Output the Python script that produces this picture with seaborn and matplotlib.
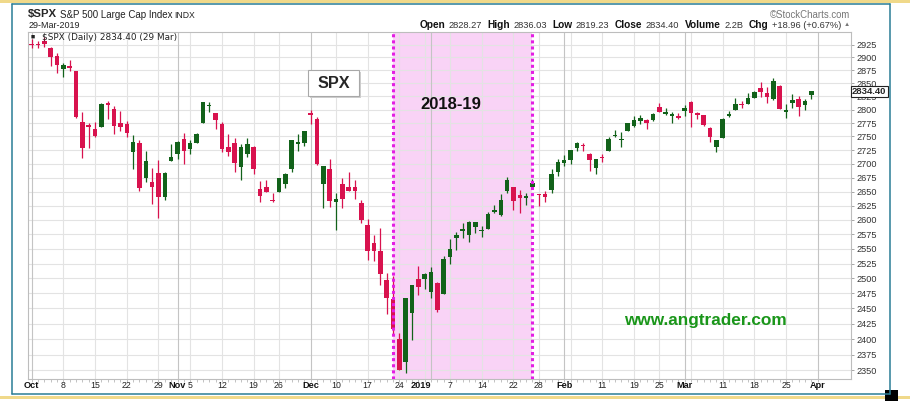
import numpy as np
import pandas as pd
import matplotlib
matplotlib.use("Agg")
import matplotlib.pyplot as plt
import seaborn as sns
from matplotlib.lines import Line2D
from matplotlib.patches import Rectangle
from matplotlib.ticker import NullLocator

# S&P 500 daily candles, Oct 2018 - Mar 2019
holidays = ['2018-11-22', '2018-12-05', '2018-12-25', '2019-01-01', '2019-01-21', '2019-02-18']
dates = pd.bdate_range('2018-10-01', '2019-03-29', freq='C', holidays=holidays)

opens = [2926.29, 2923.80, 2931.69, 2919.35, 2902.54, 2877.53, 2882.51, 2873.90, 2776.87, 2770.54,
         2763.83, 2767.05, 2811.67, 2802.00, 2775.66, 2773.94, 2721.03, 2737.87, 2674.88, 2667.86,
         2682.65, 2640.68, 2705.60, 2717.58, 2745.45, 2726.37, 2738.40, 2774.13, 2806.38, 2794.10,
         2773.93, 2730.05, 2737.90, 2693.52, 2718.54, 2730.74, 2654.60, 2657.74, 2633.36, 2649.97,
         2663.75, 2691.45, 2736.97, 2737.76, 2790.50, 2782.43, 2663.51, 2691.26, 2630.86, 2664.44,
         2658.23, 2658.70, 2629.68, 2590.75, 2559.90, 2547.05, 2496.77, 2465.38, 2400.56, 2363.12,
         2442.50, 2498.77, 2498.94, 2476.96, 2491.92, 2474.33, 2535.61, 2568.11, 2580.00, 2573.51,
         2588.11, 2580.31, 2585.10, 2614.75, 2609.28, 2651.27, 2657.88, 2643.48, 2638.84, 2657.44,
         2644.97, 2644.89, 2653.62, 2685.49, 2702.32, 2706.49, 2728.34, 2735.05, 2717.53, 2692.36,
         2712.40, 2722.61, 2750.30, 2743.50, 2760.24, 2769.28, 2779.05, 2780.24, 2780.67, 2804.35,
         2792.36, 2787.50, 2788.11, 2798.22, 2814.37, 2794.41, 2790.27, 2766.53, 2730.79, 2747.61,
         2787.34, 2799.78, 2810.38, 2810.79, 2822.61, 2840.76, 2831.34, 2819.72, 2844.52, 2796.01,
         2812.66, 2819.72, 2809.40, 2828.27]
highs = [2937.06, 2931.42, 2939.86, 2919.78, 2909.64, 2889.45, 2894.83, 2874.02, 2795.14, 2775.77,
         2775.99, 2813.46, 2816.94, 2806.04, 2797.77, 2778.94, 2753.59, 2742.59, 2722.70, 2692.38,
         2706.85, 2685.43, 2736.69, 2741.67, 2756.55, 2744.27, 2756.82, 2815.15, 2814.75, 2794.10,
         2775.99, 2754.60, 2746.80, 2735.38, 2746.75, 2733.16, 2669.44, 2670.73, 2647.55, 2674.35,
         2682.53, 2744.00, 2753.75, 2760.88, 2800.18, 2785.93, 2696.15, 2708.54, 2647.51, 2674.35,
         2685.44, 2670.19, 2635.07, 2601.13, 2573.99, 2585.29, 2509.63, 2504.41, 2410.34, 2467.76,
         2489.10, 2520.27, 2509.24, 2519.49, 2493.14, 2538.07, 2566.16, 2579.82, 2595.32, 2597.82,
         2596.27, 2589.32, 2613.08, 2625.76, 2645.06, 2675.47, 2657.88, 2653.19, 2647.20, 2672.38,
         2644.97, 2650.93, 2690.44, 2708.95, 2716.66, 2724.99, 2738.98, 2738.08, 2719.32, 2708.07,
         2718.05, 2748.19, 2761.85, 2757.90, 2775.66, 2787.33, 2789.88, 2781.58, 2794.20, 2813.49,
         2803.12, 2795.76, 2793.73, 2808.02, 2816.88, 2796.44, 2790.27, 2767.25, 2744.13, 2784.00,
         2798.32, 2821.24, 2816.25, 2830.73, 2835.41, 2852.42, 2843.54, 2860.31, 2846.16, 2809.79,
         2829.87, 2825.56, 2819.71, 2836.03]
lows = [2917.91, 2919.37, 2921.36, 2883.92, 2869.29, 2862.08, 2874.27, 2784.86, 2710.51, 2729.44,
        2749.03, 2766.91, 2781.81, 2755.18, 2760.27, 2749.22, 2691.43, 2651.89, 2667.84, 2628.16,
        2603.54, 2635.34, 2705.60, 2708.85, 2700.44, 2717.94, 2737.08, 2774.13, 2794.99, 2764.24,
        2722.00, 2714.98, 2685.75, 2670.75, 2712.16, 2681.09, 2631.52, 2649.82, 2631.09, 2649.97,
        2655.89, 2684.38, 2722.94, 2732.76, 2773.38, 2697.18, 2621.53, 2623.14, 2583.23, 2621.30,
        2650.26, 2637.27, 2593.84, 2530.54, 2528.71, 2488.96, 2441.18, 2408.55, 2351.10, 2346.58,
        2397.94, 2472.89, 2482.82, 2467.47, 2443.96, 2474.33, 2524.56, 2547.56, 2568.89, 2562.02,
        2577.40, 2570.41, 2585.10, 2612.68, 2606.36, 2647.58, 2617.27, 2612.86, 2627.01, 2657.33,
        2624.06, 2631.05, 2648.34, 2678.65, 2696.88, 2698.75, 2724.03, 2724.15, 2687.26, 2681.83,
        2703.79, 2722.61, 2748.63, 2731.23, 2760.24, 2767.29, 2774.06, 2764.55, 2779.11, 2794.99,
        2789.47, 2775.13, 2782.51, 2787.38, 2767.66, 2782.97, 2768.69, 2739.09, 2722.27, 2747.61,
        2786.73, 2799.78, 2803.46, 2810.79, 2821.99, 2823.27, 2812.43, 2817.38, 2800.47, 2785.02,
        2803.99, 2787.72, 2798.77, 2819.23]
closes = [2924.59, 2923.43, 2925.51, 2901.61, 2885.57, 2884.43, 2880.34, 2785.68, 2728.37, 2767.13,
          2750.79, 2809.92, 2809.21, 2768.78, 2767.78, 2755.88, 2740.69, 2656.10, 2705.57, 2658.69,
          2641.25, 2682.63, 2711.74, 2740.37, 2723.06, 2738.31, 2755.45, 2813.89, 2806.83, 2781.01,
          2726.22, 2722.18, 2701.58, 2730.20, 2736.27, 2690.73, 2641.89, 2649.93, 2632.56, 2673.45,
          2682.17, 2743.79, 2737.80, 2760.17, 2790.37, 2700.06, 2695.95, 2633.08, 2637.72, 2636.78,
          2651.07, 2650.54, 2599.95, 2545.94, 2546.16, 2506.96, 2467.42, 2416.62, 2351.10, 2467.70,
          2488.83, 2485.74, 2506.85, 2510.03, 2447.89, 2531.94, 2549.69, 2574.41, 2584.96, 2596.64,
          2596.26, 2582.61, 2610.30, 2616.10, 2635.96, 2670.71, 2632.90, 2638.70, 2642.33, 2664.76,
          2643.85, 2640.00, 2681.05, 2704.10, 2706.53, 2724.87, 2737.70, 2731.61, 2706.05, 2707.88,
          2709.80, 2744.73, 2753.03, 2745.73, 2775.60, 2779.76, 2784.70, 2774.88, 2792.67, 2796.11,
          2793.90, 2792.38, 2784.49, 2803.69, 2792.81, 2789.65, 2771.45, 2748.93, 2743.07, 2783.30,
          2791.52, 2810.92, 2808.48, 2822.48, 2832.94, 2832.57, 2824.23, 2854.88, 2800.71, 2798.36,
          2818.46, 2805.37, 2815.44, 2834.40]

price_ticks = list(range(2350, 2926, 25))
highlight_start = '2018-12-21'
highlight_end = '2019-01-25'
header_parts = [('Open', True), ('2828.27', False), ('High', True), ('2836.03', False),
                ('Low', True), ('2819.23', False), ('Close', True), ('2834.40', False),
                ('Volume', True), ('2.2B', False), ('Chg', True), ('+18.96 (+0.67%)', False)]

GREEN = '#12621a'
RED = '#d8124e'
W, H = 910, 401


def fx(x):
    return x / W


def fy(y):
    return 1 - y / H


df = pd.DataFrame({'date': dates, 'open': opens, 'high': highs, 'low': lows, 'close': closes})
df['i'] = np.arange(len(df))
df['up'] = df['close'] >= df['open']

sns.set_theme(style='white')
plt.rcParams['font.family'] = ['Liberation Sans', 'DejaVu Sans']

fig = plt.figure(figsize=(W / 100, H / 100), dpi=100)
ax = fig.add_axes([fx(28.3), fy(379.3), fx(850.7) - fx(28.3), fy(32) - fy(379.3)])
ax.set_yscale('log')

# highlight band
i0 = df.index[df['date'] == highlight_start][0]
i1 = df.index[df['date'] == highlight_end][0]
ax.axvspan(i0, i1, color='#f9d3f6', zorder=0.2, lw=0)
for xi in (i0, i1):
    ax.axvline(xi, color='#e31fe3', lw=2.2, ls=(0, (1, 1)), zorder=5)

# grid
for t in price_ticks:
    ax.axhline(t, color='#e3e3e3', lw=0.8, zorder=0.5)

month_starts = df.groupby(df['date'].dt.to_period('M'))['i'].first().tolist() + [len(df)]
week_starts = df.groupby(df['date'].dt.to_period('W'))['i'].first().tolist() + [len(df)]
for w in week_starts:
    if w not in month_starts:
        ax.axvline(w, color='#e3e3e3', lw=0.8, zorder=0.5)
for m in month_starts:
    ax.axvline(m, color='#c4c4c4', lw=0.8, zorder=0.5)

# candles
for up, grp in df.groupby('up'):
    c = GREEN if up else RED
    ax.vlines(grp['i'], grp['low'], grp['high'], color=c, lw=0.9, zorder=2)
    body_lo = np.minimum(grp['open'], grp['close'])
    body_h = np.maximum((grp['close'] - grp['open']).abs(), 2.5)
    ax.bar(grp['i'], body_h, bottom=body_lo, width=0.72, color=c, lw=0, zorder=3)

ax.set_xlim(-0.54, 129.2)
ax.set_ylim(2336, 2950)

# y axis on the right
ax.yaxis.tick_right()
ax.yaxis.set_minor_locator(NullLocator())
ax.set_yticks(price_ticks)
ax.set_yticklabels([str(t) for t in price_ticks])
ax.tick_params(axis='y', which='major', right=True, length=2.5, width=0.6, color='#999999',
               pad=1.5, labelsize=6.6, labelcolor='#333333')

# x axis: day ticks + custom labels
ax.set_xticks([])
ax.set_xticks(np.arange(len(df) + 1), minor=True)
ax.tick_params(axis='x', which='minor', bottom=True, length=2, width=0.5, color='#aaaaaa')

label_dates = list(df['date']) + [pd.Timestamp('2019-04-01')]
for m in month_starts:
    d = label_dates[m]
    lab = '2019' if d.month == 1 else d.strftime('%b')
    ax.text(m, -0.017, lab, transform=ax.get_xaxis_transform(), ha='right' if lab == '2019' else 'center',
            va='center', fontsize=6.6, fontweight='bold', color='#111111')
for w in week_starts:
    if any(abs(w - m) <= 1 for m in month_starts):
        continue
    ax.text(w, -0.017, str(label_dates[w].day), transform=ax.get_xaxis_transform(), ha='center',
            va='center', fontsize=6.3, color='#222222')

for s in ax.spines.values():
    s.set_color('#bdbdbd')
    s.set_linewidth(0.8)

# in-plot texts
fig.text(fx(42.5), fy(37.5), '$SPX (Daily) 2834.40 (29 Mar)', family='DejaVu Sans', fontsize=6.4,
         va='center', ha='left', color='#222222')
fig.text(fx(30.5), fy(37.5), '\u25A0', fontsize=5, va='center', ha='left', color='#222222')

fig.add_artist(Rectangle((fx(310), fy(98)), fx(51), fy(72) - fy(98), transform=fig.transFigure,
                         facecolor='#cfcfcf', edgecolor='none', zorder=6))
fig.add_artist(Rectangle((fx(308), fy(96)), fx(51), fy(70) - fy(96), transform=fig.transFigure,
                         facecolor='white', edgecolor='#a8a8a8', lw=0.8, zorder=7))
fig.text(fx(333.5), fy(83), 'SPX', fontsize=11.7, fontweight='bold', ha='center', va='center', zorder=8)
fig.text(fx(451), fy(104.5), '2018-19', fontsize=12, fontweight='bold', ha='center', va='center',
         color='#111111', zorder=8)
fig.text(fx(705.5), fy(320), 'www.angtrader.com', fontsize=12.4, fontweight='bold', ha='center',
         va='center', color='#1a961a', zorder=8)

# last price tag (sits over the 2825 label, as in the source)
fig.text(fx(852), fy(91.5), '2834.40', fontsize=6.8, fontweight='bold', ha='left', va='center',
         zorder=9, bbox=dict(boxstyle='square,pad=0.15', fc='white', ec='#222222', lw=0.8))

# header
fig.text(fx(28.3), fy(14), '$SPX', fontsize=8.2, fontweight='bold', ha='left', va='center')
fig.text(fx(60), fy(15), 'S&P 500 Large Cap Index', fontsize=7, ha='left', va='center', color='#222222')
fig.text(fx(174), fy(15.5), 'INDX', fontsize=6.2, ha='left', va='center', color='#222222')
fig.text(fx(28.3), fy(25.7), '29-Mar-2019', fontsize=6.5, ha='left', va='center', color='#222222')
fig.text(fx(850), fy(15), '\u00a9StockCharts.com', fontsize=6.9, ha='right', va='center', color='#777777')

# OHLC line: measure each piece and pack them right-aligned to x=841
renderer = fig.canvas.get_renderer()
pieces = []
for t, b in header_parts:
    txt = fig.text(0, fy(25.5), t, fontsize=7.3 if b else 6.7, fontweight='bold' if b else 'normal',
                   ha='left', va='center', color='#111111' if b else '#333333')
    pieces.append((txt, txt.get_window_extent(renderer).width, b))
gaps = [3.4 if b else 5.5 for _, _, b in pieces]
total = sum(w for _, w, _ in pieces) + sum(gaps[:-1])
x = 841 - total
for (txt, w, b), g in zip(pieces, gaps):
    txt.set_x(fx(x))
    x += w + g
fig.text(fx(843.3), fy(25), '\u25B2', fontsize=4.5, ha='left', va='center', color='#777777')

# outer frame
TEAL = '#2a7d96'
YELLOW = '#f0d98a'
fig.add_artist(Rectangle((0, fy(2.5)), 1, fy(0) - fy(2.5), transform=fig.transFigure,
                         facecolor=YELLOW, edgecolor='none'))
fig.add_artist(Rectangle((0, fy(398.5)), 1, fy(395.5) - fy(398.5), transform=fig.transFigure,
                         facecolor=YELLOW, edgecolor='none'))
for (xa, ya, xb, yb) in [(12.3, 4, 890, 4), (12.3, 4, 12.3, 394.3), (890, 4, 890, 394.3),
                         (12.3, 394.3, 890, 394.3)]:
    fig.add_artist(Line2D([fx(xa), fx(xb)], [fy(ya), fy(yb)], transform=fig.transFigure,
                          color=TEAL, lw=1.1))
fig.add_artist(Rectangle((fx(885), fy(400.5)), fx(12.5), fy(390) - fy(400.5), transform=fig.transFigure,
                         facecolor='black', edgecolor='none'))

fig.savefig('out.png', dpi=100)
